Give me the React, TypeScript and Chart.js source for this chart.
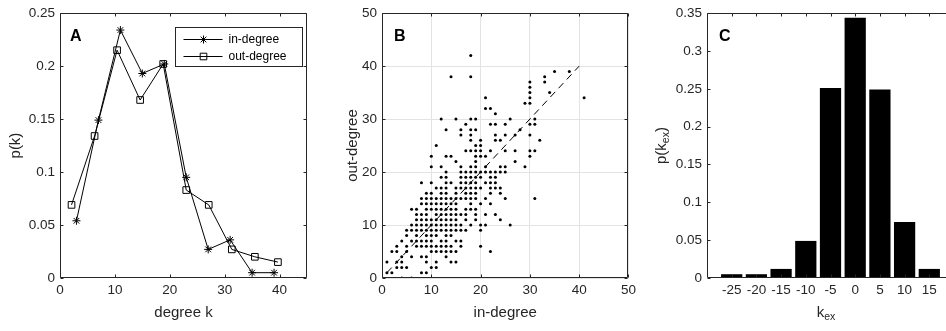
import React, { useEffect, useRef } from 'react';
import { Chart, registerables } from 'chart.js';

Chart.register(...registerables);

const FONT = '"Liberation Sans", Arial, Helvetica, sans-serif';
const AXIS = '#262626';
const TICK_SIZE = 13.5;
const TITLE_SIZE = 15;

// ---------- Panel A: degree distributions ----------
const inDegreeK = [3, 7, 11, 15, 19, 23, 27, 31, 35, 39];
const inDegreeP = [0.054, 0.149, 0.234, 0.193, 0.202, 0.095, 0.027, 0.036, 0.005, 0.005];
const outDegreeK = [2.1, 6.3, 10.4, 14.6, 18.8, 23.0, 27.1, 31.3, 35.5, 39.7];
const outDegreeP = [0.069, 0.134, 0.215, 0.168, 0.202, 0.083, 0.069, 0.027, 0.02, 0.015];
const aXTicks = [0, 10, 20, 30, 40];
const aYTicks = [0, 0.05, 0.1, 0.15, 0.2, 0.25];

// ---------- Panel B: in-degree vs out-degree (rows: [out-degree, in-degrees]) ----------
const scatterRows: [number, number[]][] = [
  [42, [18]],
  [39, [35, 38]],
  [38, [14, 18, 33]],
  [37, [30, 33]],
  [36, [30]],
  [35, [30, 34]],
  [34, [21, 30, 41]],
  [33, [29, 30]],
  [32, [21, 22]],
  [31, [23]],
  [30, [12, 15, 18, 19, 26, 31]],
  [29, [17, 22, 23, 25, 30, 31]],
  [28, [13, 16, 18, 19, 28]],
  [27, [16, 18, 23, 25, 27, 30]],
  [26, [18, 20, 23, 24, 32]],
  [25, [11, 19, 20]],
  [24, [17, 18, 19, 20, 22, 25, 27, 30, 31]],
  [23, [10, 13, 14, 19, 20, 21, 30]],
  [22, [15, 19, 27]],
  [21, [10, 12, 16, 18, 19, 21, 24, 25, 29]],
  [20, [13, 16, 17, 18, 19, 20, 21, 22, 23, 24, 25]],
  [19, [12, 13, 16, 17, 18, 19, 20, 22, 23]],
  [18, [8, 10, 13, 14, 16, 17, 18, 19, 21, 22, 23]],
  [17, [11, 12, 13, 15, 16, 17, 18, 19, 20, 22, 23, 24]],
  [16, [9, 10, 12, 13, 15, 17, 18, 19, 22, 24]],
  [15, [8, 9, 10, 11, 12, 13, 14, 15, 16, 17, 18, 19, 21, 25, 31]],
  [14, [8, 9, 10, 11, 12, 13, 14, 15, 18, 20, 22]],
  [13, [6, 7, 9, 10, 11, 12, 13, 14, 15, 17, 18, 19]],
  [12, [7, 8, 9, 11, 12, 13, 14, 15, 16, 17, 19, 21, 23]],
  [11, [7, 8, 9, 10, 11, 12, 13, 14, 15, 17, 19, 24]],
  [10, [6, 7, 8, 9, 10, 11, 12, 13, 14, 15, 16, 18, 20, 21, 26]],
  [9, [5, 6, 7, 8, 9, 10, 11, 12, 13, 14, 15, 16, 17, 20]],
  [8, [5, 7, 9, 10, 11, 13, 14]],
  [7, [4, 6, 7, 8, 9, 10, 12, 13, 15, 16]],
  [6, [3, 5, 7, 8, 9, 10, 11, 12, 13, 14, 16, 20]],
  [5, [2, 3, 5, 10, 11, 12, 13, 14, 15, 22]],
  [4, [4, 6, 8, 9, 13]],
  [3, [1, 3, 4, 9, 11, 14, 15]],
  [2, [3, 4, 5, 10, 11]],
  [1, [1, 2, 8, 9]],
  [0, [4, 6]],
];
const diagonalEnds = [1, 40];
const bTicks = [0, 10, 20, 30, 40, 50];

// ---------- Panel C: k_ex distribution ----------
const kexBins = [-25, -20, -15, -10, -5, 0, 5, 10, 15];
const kexP = [0.005, 0.005, 0.012, 0.049, 0.251, 0.344, 0.249, 0.074, 0.012];
const cYTicks = [0, 0.05, 0.1, 0.15, 0.2, 0.25, 0.3, 0.35];

type Part = { t: string; sub?: boolean };

function drawRich(ctx: CanvasRenderingContext2D, parts: Part[], cx: number, cy: number, rotate: boolean) {
  const main = `${TITLE_SIZE}px ${FONT}`;
  const small = `${TITLE_SIZE * 0.7}px ${FONT}`;
  let total = 0;
  const widths = parts.map((p) => {
    ctx.font = p.sub ? small : main;
    const w = ctx.measureText(p.t).width;
    total += w;
    return w;
  });
  ctx.save();
  ctx.translate(cx, cy);
  if (rotate) ctx.rotate(-Math.PI / 2);
  ctx.textAlign = 'left';
  ctx.textBaseline = 'middle';
  ctx.fillStyle = AXIS;
  let x = -total / 2;
  parts.forEach((p, i) => {
    ctx.font = p.sub ? small : main;
    ctx.fillText(p.t, x, p.sub ? 4.5 : 0);
    x += widths[i];
  });
  ctx.restore();
}

const panelPlugin = {
  id: 'panel',
  afterDraw(chart: any, _args: any, o: any) {
    const { ctx, chartArea: a, scales } = chart;
    const xs = scales.x;
    const ys = scales.y;
    const L = Math.round(a.left) + 0.5;
    const R = Math.round(a.right) - 0.5;
    const T = Math.round(a.top) + 0.5;
    const B = Math.round(a.bottom) - 0.5;
    ctx.save();
    ctx.strokeStyle = AXIS;
    ctx.lineWidth = 1;
    ctx.setLineDash([]);
    ctx.beginPath();
    ctx.rect(L, T, R - L, B - T);
    const tl = 3;
    for (const v of o.xTicks) {
      const p = Math.round(xs.getPixelForValue(v)) + 0.5;
      ctx.moveTo(p, B);
      ctx.lineTo(p, B - tl);
      ctx.moveTo(p, T);
      ctx.lineTo(p, T + tl);
    }
    for (const v of o.yTicks) {
      const p = Math.round(ys.getPixelForValue(v)) + 0.5;
      ctx.moveTo(L, p);
      ctx.lineTo(L + tl, p);
      ctx.moveTo(R, p);
      ctx.lineTo(R - tl, p);
    }
    ctx.stroke();

    // panel letter
    ctx.fillStyle = '#000';
    ctx.font = `bold 16px ${FONT}`;
    ctx.textAlign = 'left';
    ctx.textBaseline = 'alphabetic';
    ctx.fillText(o.letter, a.left + o.letterDx, a.top + 28);

    // legend
    if (o.legend) {
      const bx = Math.round(a.left + 115) + 0.5;
      const by = Math.round(a.top + 14) + 0.5;
      const bw = 127;
      const bh = 39;
      ctx.fillStyle = '#fff';
      ctx.fillRect(bx, by, bw, bh);
      ctx.strokeStyle = AXIS;
      ctx.strokeRect(bx, by, bw, bh);
      o.legend.forEach((item: any, i: number) => {
        const y = Math.round(by + 11 + i * 17.5) + 0.5;
        const x1 = bx + 8;
        const x2 = bx + 47;
        const mx = bx + 28;
        ctx.strokeStyle = '#000';
        ctx.beginPath();
        ctx.moveTo(x1, y);
        ctx.lineTo(x2, y);
        if (item.marker === 'star') {
          const r = 4;
          const d = r * Math.SQRT1_2;
          ctx.moveTo(mx - r, y);
          ctx.lineTo(mx + r, y);
          ctx.moveTo(mx, y - r);
          ctx.lineTo(mx, y + r);
          ctx.moveTo(mx - d, y - d);
          ctx.lineTo(mx + d, y + d);
          ctx.moveTo(mx - d, y + d);
          ctx.lineTo(mx + d, y - d);
        } else {
          ctx.rect(mx - 3.3, y - 3.3, 6.6, 6.6);
        }
        ctx.stroke();
        ctx.fillStyle = '#000';
        ctx.font = `12px ${FONT}`;
        ctx.textBaseline = 'middle';
        ctx.fillText(item.label, bx + 53, y + 0.5);
      });
    }

    // axis titles
    const cxMid = (a.left + a.right) / 2 + (o.xTitleDx || 0);
    const cyMid = (a.top + a.bottom) / 2;
    drawRich(ctx, o.xTitle, cxMid, a.bottom + 35, false);
    drawRich(ctx, o.yTitle, a.left - o.yTitleOffset, cyMid, true);
    ctx.restore();
  },
};

const tickFont = { family: FONT, size: TICK_SIZE };

function xAxis(min: number, max: number, ticks: number[], height: number, grid: boolean) {
  return {
    type: 'linear',
    min,
    max,
    offset: false,
    afterBuildTicks: (s: any) => {
      s.ticks = ticks.map((value) => ({ value }));
    },
    afterFit: (s: any) => {
      s.height = height;
    },
    grid: grid ? { display: true, color: '#e3e3e3', drawTicks: false, offset: false } : { display: false, drawTicks: false },
    border: { display: false },
    ticks: {
      font: tickFont,
      color: AXIS,
      padding: 4,
      maxRotation: 0,
      minRotation: 0,
      autoSkip: false,
      callback: (v: any) => String(v),
    },
  };
}

function yAxis(min: number, max: number, ticks: number[], width: number, grid: boolean) {
  return {
    type: 'linear',
    min,
    max,
    afterBuildTicks: (s: any) => {
      s.ticks = ticks.map((value) => ({ value }));
    },
    afterFit: (s: any) => {
      s.width = width;
    },
    grid: grid ? { display: true, color: '#e3e3e3', drawTicks: false } : { display: false, drawTicks: false },
    border: { display: false },
    ticks: {
      font: tickFont,
      color: AXIS,
      padding: 5,
      autoSkip: false,
      callback: (v: any) => String(v),
    },
  };
}

const H = 331;

function configA(): any {
  return {
    type: 'scatter',
    data: {
      datasets: [
        {
          label: 'in-degree',
          data: inDegreeK.map((x, i) => ({ x, y: inDegreeP[i] })),
          showLine: true,
          borderColor: '#000',
          borderWidth: 1,
          pointStyle: 'star',
          pointRadius: 4,
          pointBorderWidth: 1,
          pointBorderColor: '#000',
          pointBackgroundColor: 'rgba(0,0,0,0)',
        },
        {
          label: 'out-degree',
          data: outDegreeK.map((x, i) => ({ x, y: outDegreeP[i] })),
          showLine: true,
          borderColor: '#000',
          borderWidth: 1,
          pointStyle: 'rect',
          pointRadius: 4.7,
          pointBorderWidth: 1,
          pointBorderColor: '#000',
          pointBackgroundColor: 'rgba(0,0,0,0)',
        },
      ],
    },
    options: {
      responsive: false,
      animation: false,
      layout: { padding: { top: 9, right: 11, left: 0, bottom: 0 } },
      scales: {
        x: xAxis(0, 45, aXTicks, H - 278, false),
        y: yAxis(0, 0.25, aYTicks, 60, false),
      },
      plugins: {
        legend: { display: false },
        tooltip: { enabled: false },
        panel: {
          letter: 'A',
          letterDx: 10,
          xTicks: aXTicks,
          yTicks: aYTicks,
          xTitle: [{ t: 'degree k' }],
          yTitle: [{ t: 'p(k)' }],
          yTitleOffset: 44,
          legend: [
            { label: 'in-degree', marker: 'star' },
            { label: 'out-degree', marker: 'rect' },
          ],
        },
      },
    },
    plugins: [panelPlugin],
  };
}

function configB(): any {
  const pts: { x: number; y: number }[] = [];
  scatterRows.forEach(([out, ins]) => ins.forEach((k) => pts.push({ x: k, y: out })));
  return {
    type: 'scatter',
    data: {
      datasets: [
        {
          label: 'nodes',
          data: pts,
          pointStyle: 'circle',
          pointRadius: 1.5,
          pointBorderWidth: 0,
          pointBackgroundColor: '#000',
        },
        {
          label: 'diagonal',
          data: diagonalEnds.map((v) => ({ x: v, y: v })),
          showLine: true,
          borderColor: '#000',
          borderWidth: 1,
          borderDash: [7, 5],
          pointRadius: 0,
        },
      ],
    },
    options: {
      responsive: false,
      animation: false,
      layout: { padding: { top: 9, right: 11, left: 0, bottom: 0 } },
      scales: {
        x: xAxis(0, 50, bTicks, H - 278, true),
        y: yAxis(0, 50, bTicks, 64, true),
      },
      plugins: {
        legend: { display: false },
        tooltip: { enabled: false },
        panel: {
          letter: 'B',
          letterDx: 12,
          xTicks: bTicks,
          yTicks: bTicks,
          xTitle: [{ t: 'in-degree' }],
          yTitle: [{ t: 'out-degree' }],
          yTitleOffset: 29,
        },
      },
    },
    plugins: [panelPlugin],
  };
}

function configC(): any {
  return {
    type: 'bar',
    data: {
      datasets: [
        {
          label: 'p(k_ex)',
          data: kexBins.map((x, i) => ({ x, y: kexP[i] })),
          backgroundColor: '#000',
          borderWidth: 0,
          barPercentage: 0.86,
          categoryPercentage: 1,
        },
      ],
    },
    options: {
      responsive: false,
      animation: false,
      layout: { padding: { top: 9, right: 11, left: 0, bottom: 0 } },
      scales: {
        x: xAxis(-30, 20, kexBins, H - 278, false),
        y: yAxis(0, 0.35, cYTicks, 67, false),
      },
      plugins: {
        legend: { display: false },
        tooltip: { enabled: false },
        panel: {
          letter: 'C',
          letterDx: 12,
          xTicks: kexBins,
          yTicks: cYTicks,
          xTitle: [{ t: 'k' }, { t: 'ex', sub: true }],
          xTitleDx: -4.5,
          yTitle: [{ t: 'p(k' }, { t: 'ex', sub: true }, { t: ')' }],
          yTitleOffset: 45,
        },
      },
    },
    plugins: [panelPlugin],
  };
}

function Panel({ make, left, width }: { make: () => any; left: number; width: number }) {
  const ref = useRef<HTMLCanvasElement>(null);
  useEffect(() => {
    const chart = new Chart(ref.current as HTMLCanvasElement, make());
    return () => chart.destroy();
  }, []);
  return (
    <canvas
      ref={ref}
      width={width}
      height={H}
      style={{ position: 'absolute', left, top: 0, width, height: H }}
    />
  );
}

export default function App() {
  return (
    <div
      style={{
        position: 'absolute',
        left: 0,
        top: 0,
        width: 946,
        height: H,
        overflow: 'hidden',
        background: '#fff',
      }}
    >
      <Panel make={configA} left={0} width={318} />
      <Panel make={configB} left={318} width={322} />
      <Panel make={configC} left={640} width={325} />
    </div>
  );
}
